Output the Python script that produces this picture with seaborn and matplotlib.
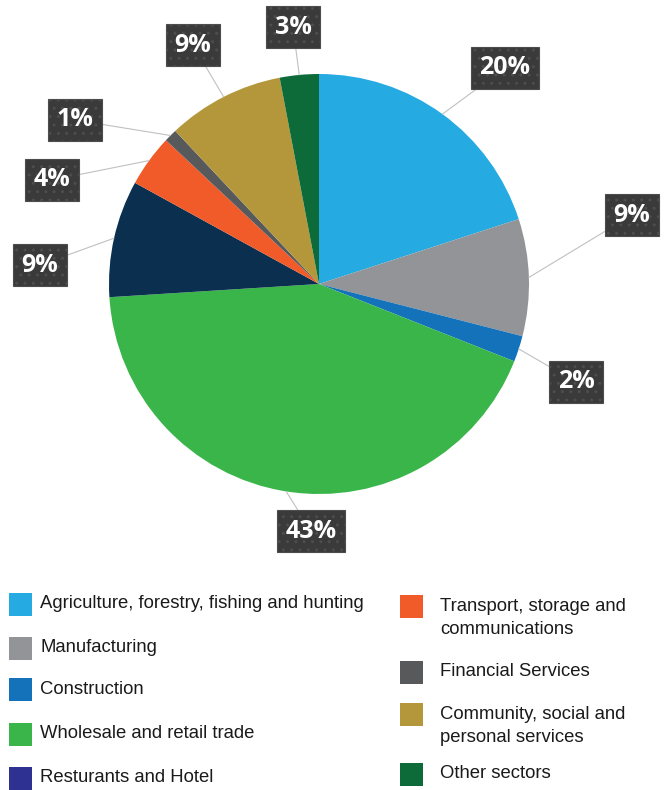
import matplotlib
matplotlib.use("Agg")
import matplotlib.pyplot as plt
import seaborn as sns
from matplotlib.patches import Rectangle
import numpy as np

sns.set_style("white")
plt.rcParams['font.family'] = ['Liberation Sans', 'DejaVu Sans']
plt.rcParams['hatch.color'] = '#555555'

sectors = ["Agriculture, forestry, fishing and hunting", "Manufacturing", "Construction",
           "Wholesale and retail trade", "Resturants and Hotel",
           "Transport, storage and\ncommunications", "Financial Services",
           "Community, social and\npersonal services", "Other sectors"]
shares = [20, 9, 2, 43, 9, 4, 1, 9, 3]
labels = ["20%", "9%", "2%", "43%", "9%", "4%", "1%", "9%", "3%"]
slice_colors = ["#25AAE1", "#929497", "#1472BA", "#39B54A", "#0B2F4F",
                "#F15A29", "#58595B", "#B4973B", "#0D6B3A"]
legend_colors = ["#25AAE1", "#929497", "#1472BA", "#39B54A", "#2E3192",
                 "#F15A29", "#58595B", "#B4973B", "#0D6B3A"]

W, H = 668, 790
fig = plt.figure(figsize=(W / 100, H / 100), dpi=100)
cx, cy, R = 319, 284, 210
ax = fig.add_axes([(cx - R) / W, 1 - (cy + R) / H, 2 * R / W, 2 * R / H])
wedges, _ = ax.pie(shares, colors=slice_colors, startangle=90, counterclock=False,
                   radius=1.0, wedgeprops=dict(linewidth=0))
ax.set_xlim(-1, 1)
ax.set_ylim(-1, 1)
ax.set_aspect('equal')
ax.axis('off')

# label box centres (pixels)
box_px = [(505, 68), (632, 215), (576, 382), (311, 531), (40, 265),
          (52, 180), (75, 120), (193, 45), (293, 27)]
for w, lab, (bx, by) in zip(wedges, labels, box_px):
    ang = np.deg2rad((w.theta1 + w.theta2) / 2)
    ex, ey = np.cos(ang), np.sin(ang)
    tx, ty = (bx - cx) / R, (cy - by) / R
    ax.annotate(lab, xy=(ex, ey), xytext=(tx, ty), ha='center', va='center',
                fontsize=18, fontweight='bold', color='white', family=['Open Sans', 'DejaVu Sans'],
                bbox=dict(boxstyle='square,pad=0.34', fc='#3a3a3a', ec='#4d4d4d', lw=0.8, hatch='..'),
                arrowprops=dict(arrowstyle='-', color='#c0c0c0', lw=0.8, shrinkA=0, shrinkB=0),
                annotation_clip=False, zorder=5)

# legend
left_rows = [604, 648, 689, 734, 778]
right_rows = [606, 672, 714, 774]
positions = [(9, y, 31) for y in left_rows] + [(400, y, 40) for y in right_rows]
for name, col, (mx, my, off) in zip(sectors, legend_colors, positions):
    fig.patches.append(Rectangle((mx / W, 1 - (my + 11.5) / H), 23 / W, 23 / H,
                                 transform=fig.transFigure, fc=col, ec='none'))
    tx = (mx + off) / W
    if "\n" in name:
        fig.text(tx, 1 - (my + 12) / H, name, ha='left', va='center', fontsize=13.3,
                 color='#1a1a1a', linespacing=1.5)
    else:
        fig.text(tx, 1 - my / H, name, ha='left', va='center', fontsize=13.3, color='#1a1a1a')

fig.savefig("out.png", dpi=100)
